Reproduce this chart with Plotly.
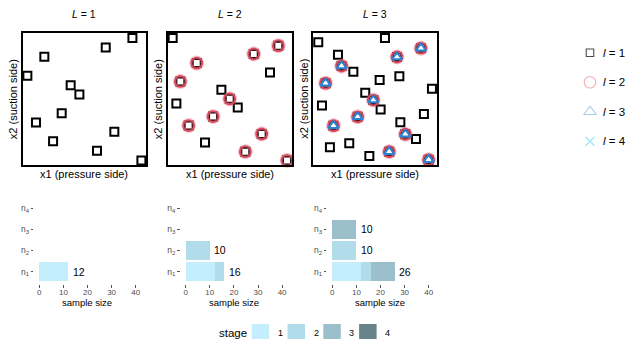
import plotly.graph_objects as go

W, H = 626, 339
FONT = "Liberation Sans, Arial, Helvetica, sans-serif"

# ---- design points (x1 = pressure side, x2 = suction side), scaled to [0, 1]
L1_sq_x1 = [0.892, 0.675, 0.176, 0.038, 0.390, 0.461, 0.317, 0.108, 0.745, 0.247, 0.604, 0.965]
L1_sq_x2 = [0.962, 0.891, 0.820, 0.676, 0.605, 0.534, 0.392, 0.322, 0.251, 0.180, 0.108, 0.035]

L2_sq_x1 = [0.040, 0.825, 0.433, 0.070, 0.565, 0.301]
L2_sq_x2 = [0.962, 0.701, 0.570, 0.466, 0.435, 0.170]
L2_ci_x1 = [0.892, 0.694, 0.234, 0.102, 0.500, 0.366, 0.169, 0.758, 0.626, 0.962]
L2_ci_x2 = [0.904, 0.841, 0.772, 0.633, 0.501, 0.367, 0.299, 0.235, 0.101, 0.035]

L3_sq_x1 = [0.040, 0.578, 0.199, 0.323, 0.535, 0.694, 0.957, 0.419,
            0.070, 0.543, 0.892, 0.702, 0.828, 0.290, 0.134, 0.452]
L3_sq_x2 = [0.929, 0.962, 0.835, 0.706, 0.643, 0.673, 0.577, 0.547,
            0.451, 0.420, 0.387, 0.324, 0.197, 0.165, 0.134, 0.068]
L3_tr_x1 = [0.868, 0.675, 0.228, 0.099, 0.484, 0.358, 0.163, 0.742, 0.612, 0.930]
L3_tr_x2 = [0.885, 0.818, 0.750, 0.620, 0.492, 0.365, 0.298, 0.233, 0.101, 0.040]

# ---- sample sizes per fidelity level (n1..n4) and stage
levels = ["n<sub>1</sub>", "n<sub>2</sub>", "n<sub>3</sub>", "n<sub>4</sub>"]
L1_stage1 = [12, 0, 0, 0]
L2_stage1 = [12, 0, 0, 0]
L2_stage2 = [4, 10, 0, 0]
L3_stage1 = [12, 0, 0, 0]
L3_stage2 = [4, 10, 0, 0]
L3_stage3 = [10, 0, 10, 0]

stages = ["1", "2", "3", "4"]
stage_colors = ["#c5eefc", "#b0dde9", "#9bbfcb", "#67848b"]

level_names = ["<i>l</i> = 1", "<i>l</i> = 2", "<i>l</i> = 3", "<i>l</i> = 4"]
panel_titles = ["<i>L</i> = 1", "<i>L</i> = 2", "<i>L</i> = 3"]


def fx(p):
    return p / W


def fy(p):
    return 1 - p / H


# panel geometry (pixels)
top_x = [(22.7, 145.7), (167.7, 291.7), (313.3, 437.3)]
top_y = (33, 165)
bot_x = [(34.2, 145.6), (180.6, 292.0), (327.2, 438.6)]
bot_y = (195.3, 284.4)

fig = go.Figure()

sq_style = dict(symbol="square-open", size=8, color="black", line=dict(width=2))
ci_halo = dict(symbol="circle-open", size=11, color="rgba(232,100,120,0.35)", line=dict(width=4))
ci_style = dict(symbol="circle-open", size=11, color="#dc4a5e", line=dict(width=1.8))
tr_style = dict(symbol="triangle-up-open", size=9, color="#2a84d6", line=dict(width=2))


def pts(x, y, ax, marker):
    fig.add_trace(go.Scatter(x=x, y=y, mode="markers", marker=marker,
                             xaxis="x" + ax, yaxis="y" + ax, showlegend=False,
                             cliponaxis=False, hoverinfo="skip"))


# L = 1
pts(L1_sq_x1, L1_sq_x2, "", sq_style)
# L = 2
pts(L2_sq_x1 + L2_ci_x1, L2_sq_x2 + L2_ci_x2, "2", sq_style)
pts(L2_ci_x1, L2_ci_x2, "2", ci_halo)
pts(L2_ci_x1, L2_ci_x2, "2", ci_style)
# L = 3
pts(L3_sq_x1 + L3_tr_x1, L3_sq_x2 + L3_tr_x2, "3", sq_style)
pts(L3_tr_x1, L3_tr_x2, "3", ci_halo)
pts(L3_tr_x1, L3_tr_x2, "3", ci_style)
pts(L3_tr_x1, L3_tr_x2, "3", tr_style)

ann = []

# ---- stacked bars of sample size
panels_bars = [
    ("4", [L1_stage1]),
    ("5", [L2_stage1, L2_stage2]),
    ("6", [L3_stage1, L3_stage2, L3_stage3]),
]
ypos = list(range(len(levels)))
for ax, stage_lists in panels_bars:
    for s, vals in enumerate(stage_lists):
        fig.add_trace(go.Bar(x=vals, y=ypos, orientation="h", width=0.9,
                             marker=dict(color=stage_colors[s], line=dict(width=0)),
                             xaxis="x" + ax, yaxis="y" + ax, showlegend=False,
                             hoverinfo="skip"))
    totals = [sum(v) for v in zip(*stage_lists)]
    for i, t in enumerate(totals):
        if t > 0:
            ann.append(dict(text=str(t), x=t, y=i, xref="x" + ax, yref="y" + ax,
                            showarrow=False, xanchor="left", yanchor="middle", xshift=2.5,
                            font=dict(size=10.5, color="black")))

# ---- key for the point symbols (right side)
key_symbols = ["square-open", "circle-open", "triangle-up-open", "x-thin-open"]
key_colors = ["black", "#f08c9a", "#78b6ea", "#6fdcef"]
key_sizes = [7.5, 11.5, 11, 9]
fig.add_trace(go.Scatter(x=[0.5] * 4, y=list(range(4)), mode="markers",
                         marker=dict(symbol=key_symbols, color=key_colors, size=key_sizes,
                                     line=dict(width=1.1, color=key_colors)),
                         xaxis="x7", yaxis="y7", showlegend=False, cliponaxis=False,
                         hoverinfo="skip"))

layout = dict(
    width=W, height=H, margin=dict(l=0, r=0, t=0, b=0),
    paper_bgcolor="white", plot_bgcolor="white",
    font=dict(family=FONT, color="black"),
    barmode="stack", bargap=0.1,
)

ax_names = ["", "2", "3"]
for i, a in enumerate(ax_names):
    x0, x1 = top_x[i]
    common = dict(range=[0, 1], showline=True, mirror=True, linecolor="black", linewidth=2,
                  showticklabels=False, ticks="", showgrid=False, zeroline=False, fixedrange=True)
    layout["xaxis" + a] = dict(domain=[fx(x0), fx(x1)], anchor="y" + a, **common)
    layout["yaxis" + a] = dict(domain=[fy(top_y[1]), fy(top_y[0])], anchor="x" + a, **common)

for i, a in enumerate(["4", "5", "6"]):
    x0, x1 = bot_x[i]
    layout["xaxis" + a] = dict(domain=[fx(x0), fx(x1)], anchor="y" + a, range=[-2.1, 44.1],
                               tickvals=[0, 10, 20, 30, 40], ticks="outside", ticklen=2.5,
                               tickwidth=1, tickcolor="#555555", ticklabelstandoff=-3,
                               tickfont=dict(size=8, color="#4d4d4d"),
                               showline=False, showgrid=False, zeroline=False, fixedrange=True)
    layout["yaxis" + a] = dict(domain=[fy(bot_y[1]), fy(bot_y[0])], anchor="x" + a,
                               range=[-0.6, 3.6], tickvals=ypos, ticktext=levels,
                               ticks="outside", ticklen=2.5, tickwidth=1, tickcolor="#555555",
                               tickfont=dict(size=8.5, color="#4d4d4d"),
                               showline=False, showgrid=False, zeroline=False, fixedrange=True)

layout["xaxis7"] = dict(domain=[fx(580), fx(600)], range=[0, 1], anchor="y7", visible=False,
                        fixedrange=True)
layout["yaxis7"] = dict(domain=[fy(156), fy(38)], range=[3.5, -0.5], anchor="x7", visible=False,
                        fixedrange=True)

for i in range(3):
    x0, x1 = top_x[i]
    cx = (x0 + x1) / 2
    ann.append(dict(text=panel_titles[i], x=fx(cx), y=fy(14), xref="paper", yref="paper",
                    showarrow=False, font=dict(size=10.5), xanchor="center", yanchor="middle"))
    ann.append(dict(text="x1 (pressure side)", x=fx(cx), y=fy(174), xref="paper", yref="paper",
                    showarrow=False, font=dict(size=11), xanchor="center", yanchor="middle"))
    ann.append(dict(text="x2 (suction side)", x=fx(x0 - 9.5), y=fy(99), xref="paper", yref="paper",
                    showarrow=False, font=dict(size=11), textangle=-90,
                    xanchor="center", yanchor="middle"))
    bx0, bx1 = bot_x[i]
    zero_px = bx0 + 2.1 * (bx1 - bx0) / 46.2
    forty_px = bx0 + 42.1 * (bx1 - bx0) / 46.2
    ann.append(dict(text="sample size", x=fx((zero_px + forty_px) / 2), y=fy(302),
                    xref="paper", yref="paper", showarrow=False, font=dict(size=9.5),
                    xanchor="center", yanchor="middle"))

for k, name in enumerate(level_names):
    ann.append(dict(text=name, x=fx(601), y=k, xref="paper", yref="y7", showarrow=False,
                    font=dict(size=11.5), xanchor="left", yanchor="middle"))

# stage key along the bottom
ann.append(dict(text="stage", x=fx(217), y=fy(333), xref="paper", yref="paper", showarrow=False,
                font=dict(size=11.5), xanchor="left", yanchor="middle"))
shapes = []
box_left = 251.7
for s, (lab, col) in enumerate(zip(stages, stage_colors)):
    bx = box_left + s * 35.8
    shapes.append(dict(type="rect", xref="paper", yref="paper", x0=fx(bx), x1=fx(bx + 17.5),
                       y0=fy(341.5), y1=fy(324), fillcolor=col, line=dict(width=0)))
    ann.append(dict(text=lab, x=fx(bx + 24), y=fy(333), xref="paper", yref="paper",
                    showarrow=False, font=dict(size=9), xanchor="left", yanchor="middle"))

layout["annotations"] = ann
layout["shapes"] = shapes
fig.update_layout(**layout)
fig.write_html("out.html")
